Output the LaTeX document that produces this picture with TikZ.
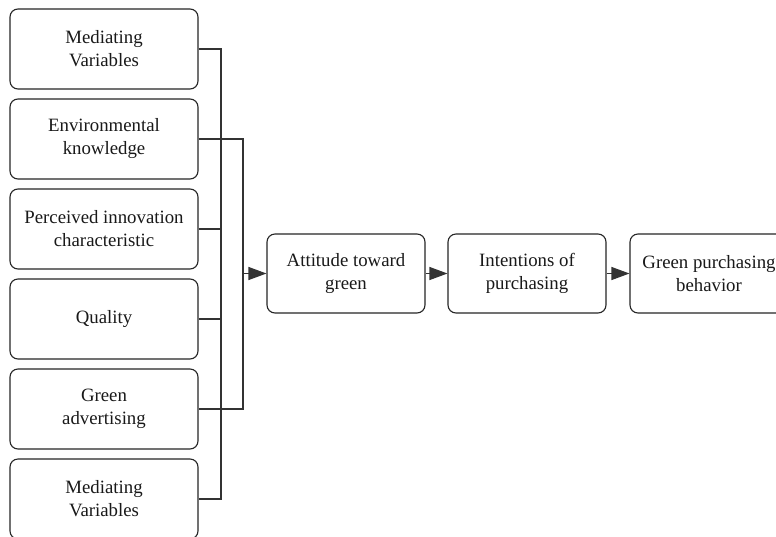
\documentclass[tikz,border=0pt]{standalone}
\usepackage{fontspec}
\setmainfont{Liberation Serif}
\usetikzlibrary{arrows.meta}
\begin{document}
\begin{tikzpicture}[x=1pt,y=-1pt,
  box/.style={draw=black!85, line width=1.1pt, rounded corners=8pt,
    align=center, inner sep=0pt, text=black!90,
    font=\fontsize{18.8}{23}\selectfont},
  factor/.style={box, minimum width=188pt, minimum height=80pt},
  stage/.style={box, minimum width=158pt, minimum height=79pt},
  conn/.style={draw=black!80, line width=1.1pt},
  arrow/.style={conn, -{Triangle[length=18pt,width=13pt]}}]
\clip (0,0) rectangle (776,536);
\fill[white] (0,0) rectangle (776,536);

% influencing factors
\node[factor] (f1) at (104,49)  {Mediating\\Variables};
\node[factor] (f2) at (104,139) {Environmental\\knowledge};
\node[factor] (f3) at (104,229) {Perceived innovation\\characteristic};
\node[factor] (f4) at (104,319) {Quality};
\node[factor] (f5) at (104,409) {Green\\advertising};
\node[factor] (f6) at (104,499) {Mediating\\Variables};

% behaviour chain
\node[stage] (att) at (346,273.5) {Attitude toward\\green};
\node[stage] (int) at (527,273.5) {Intentions of\\purchasing};
\node[stage] (gpb) at (709,273.5) {Green purchasing\\behavior};

% bus lines
\coordinate (busA) at (221,0);
\coordinate (busB) at (243,0);

\draw[conn] (f1.east) -- (f1.east -| busA) -- (f6.east -| busA) -- (f6.east);
\draw[conn] (f3.east) -- (f3.east -| busA);
\draw[conn] (f4.east) -- (f4.east -| busA);
\draw[conn] (f2.east) -- (f2.east -| busB) -- (f5.east -| busB) -- (f5.east);

\draw[arrow] (att.west -| busB) -- (att.west);
\draw[arrow] (att.east) -- (int.west);
\draw[arrow] (int.east) -- (gpb.west);
\end{tikzpicture}
\end{document}
